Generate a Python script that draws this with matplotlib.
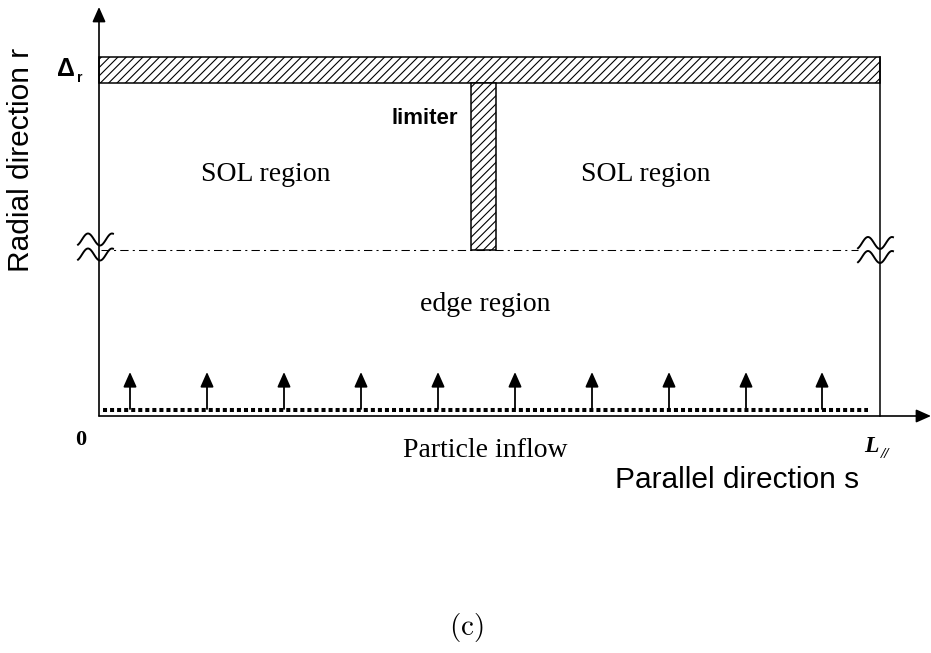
import matplotlib
matplotlib.use("Agg")
import matplotlib.pyplot as plt
from matplotlib.patches import Rectangle
import numpy as np

plt.rcParams['hatch.linewidth'] = 0.8
plt.rcParams['mathtext.fontset'] = 'cm'

# schematic layout (pixel units of the 931x653 canvas)
x0, x_end, x_axis_tip = 99, 880, 931
y_axis, y_top_tip = 416, 7
bar_top, bar_bot = 57, 83
lim_left, lim_right, lim_bot = 471, 496, 250
y_sep = 250

# particle inflow arrows
arrow_x = [130, 207, 284, 361, 438, 515, 592, 669, 746, 822]
arrow_base, arrow_tip = 409, 372

# region labels: (x, y, text)
region_labels = [(266, 181, "SOL region"), (646, 181, "SOL region"),
                 (485, 311, "edge region"), (485, 457, "Particle inflow")]

# break marks: (x where the curve starts, x of first peak, centre y)
breaks = [(78, 88, 239.5), (78, 88, 254.5), (858, 868, 243), (858, 868, 257)]

fig = plt.figure(figsize=(9.31, 6.53), dpi=100)
ax = fig.add_axes([0, 0, 1, 1])
ax.set_xlim(0, 931)
ax.set_ylim(653, 0)
ax.axis('off')

serif = 'Liberation Serif'
sans = 'Liberation Sans'
head = '-|>,head_length=0.45,head_width=0.2'

# axes arrows
ax.annotate('', xy=(x0, y_top_tip), xytext=(x0, y_axis),
            arrowprops=dict(arrowstyle=head, mutation_scale=20, lw=1.2,
                            color='k', shrinkA=0, shrinkB=0))
ax.annotate('', xy=(x_axis_tip, y_axis), xytext=(x0, y_axis),
            arrowprops=dict(arrowstyle=head, mutation_scale=20, lw=1.2,
                            color='k', shrinkA=0, shrinkB=0))

# right boundary
ax.plot([x_end, x_end], [bar_top, y_axis], color='k', lw=1.1)

# hatched top wall and limiter
ax.add_patch(Rectangle((x0, bar_top), x_end - x0, bar_bot - bar_top,
                       facecolor='white', edgecolor='k', lw=1.1, hatch='////'))
ax.add_patch(Rectangle((lim_left, bar_bot), lim_right - lim_left, lim_bot - bar_bot,
                       facecolor='white', edgecolor='k', lw=1.1, hatch='////'))

# separatrix dash-dot line
ax.plot([x0 + 2, 858], [y_sep, y_sep], color='k', lw=0.75,
        linestyle=(0, (8, 4, 2, 4)))

# break marks
for xs, xp, yc in breaks:
    xx = np.linspace(xs, xs + 35, 60)
    yy = yc - 6 * np.sin(2 * np.pi * (xx - (xp - 6)) / 24)
    ax.plot(xx, yy, color='k', lw=1.4)

# dotted source line
ax.plot([103, 868], [410, 410], color='k', lw=2.9, linestyle=(0, (1, 0.75)))

# inflow arrows
for xa in arrow_x:
    ax.annotate('', xy=(xa, arrow_tip), xytext=(xa, arrow_base),
                arrowprops=dict(arrowstyle=head, mutation_scale=20, lw=1.3,
                                color='k', shrinkA=0, shrinkB=0))

# texts
for x, y, t in region_labels:
    ax.text(x, y, t, family=serif, fontsize=20, ha='center', va='baseline')

ax.text(425, 119, "limiter", family=sans, fontsize=16, fontweight='bold',
        ha='center', va='center')
ax.text(21, 160, "Radial direction r", family=sans, fontsize=21.5,
        rotation=90, ha='center', va='center')
ax.text(737, 480, "Parallel direction s", family=sans, fontsize=21.5,
        ha='center', va='center')
ax.text(66, 69, "\u0394", family=sans, fontsize=18, fontweight='bold',
        ha='center', va='center')
ax.text(80, 78, "r", family=sans, fontsize=10, fontweight='bold',
        ha='center', va='center')
ax.text(81, 440, "0", family=serif, fontsize=16, fontweight='bold',
        ha='center', va='center')
ax.text(871, 447, "L", family=serif, fontsize=17, fontweight='bold',
        style='italic', ha='center', va='center')
ax.text(885, 455, "//", family=serif, fontsize=11, fontweight='bold',
        style='italic', ha='center', va='center')
ax.text(466, 627, r"$\mathrm{(c)}$", fontsize=21, ha='center', va='center')

fig.savefig("out.png", dpi=100)
